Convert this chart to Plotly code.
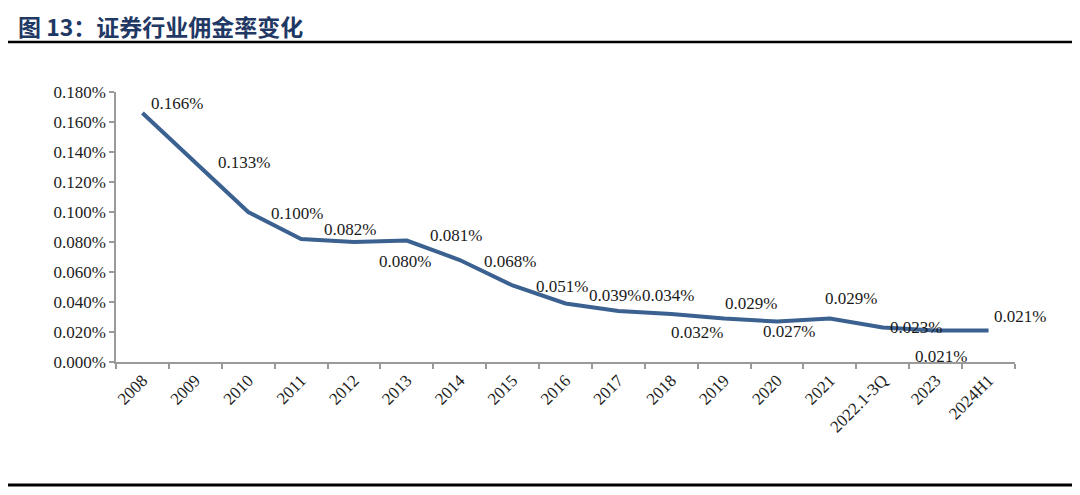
import plotly.graph_objects as go

categories = ["2008", "2009", "2010", "2011", "2012", "2013", "2014", "2015", "2016",
              "2017", "2018", "2019", "2020", "2021", "2022.1-3Q", "2023", "2024H1"]
rates = [0.166, 0.133, 0.100, 0.082, 0.080, 0.081, 0.068, 0.051, 0.039,
         0.034, 0.032, 0.029, 0.027, 0.029, 0.023, 0.021, 0.021]
y_ticks = [0.0, 0.02, 0.04, 0.06, 0.08, 0.10, 0.12, 0.14, 0.16, 0.18]

# label offsets (pixels) relative to each point: (right, down)
label_dx = [35, 49, 49, 49, 51, 49, 50, 49, 49, 50, 26, 27, 12, 21, 33, 5, 31]
label_dy = [-10, 0, 1, -10, 19, -5, 1, 1, -8, -16, 18, -15, 10, -20, 0, 26, -14]

OFF = 8  # page body margin
W, H = 1064, 479
# plot area in page pixels: x 116..1015, y 92..362
L = 116 - OFF
T = 92 - OFF
R = W - (1015 - OFF)
B = H - (362 - OFF)
pw, ph = W - L - R, H - T - B

def px_to_paper_x(px):  # page px
    return (px - OFF - L) / pw

def px_to_paper_y(py):  # page px
    return (H - B - (py - OFF)) / ph

serif = "Liberation Serif, Times New Roman, serif"

fig = go.Figure()
fig.add_trace(go.Scatter(
    x=list(range(len(categories))), y=rates, mode="lines",
    line=dict(color="#3B6191", width=4),
    hoverinfo="skip", showlegend=False,
))

annotations = []
for i, (v, dx, dy) in enumerate(zip(rates, label_dx, label_dy)):
    annotations.append(dict(
        x=i, y=v, xref="x", yref="y", text=f"{v:.3f}%", showarrow=False,
        xshift=dx, yshift=-dy, font=dict(family=serif, size=17, color="#1a1a1a"),
    ))

annotations.append(dict(
    xref="paper", yref="paper", x=px_to_paper_x(17), y=px_to_paper_y(8),
    xanchor="left", yanchor="top", showarrow=False, borderpad=0,
    text="<b>图 13：证券行业佣金率变化</b>",
    font=dict(family="Noto Sans CJK SC", size=23, color="#1F3864"),
))

shapes = [
    dict(type="line", xref="paper", yref="paper",
         x0=px_to_paper_x(0), x1=px_to_paper_x(1080), y0=px_to_paper_y(42), y1=px_to_paper_y(42),
         line=dict(color="#000000", width=2.5)),
    dict(type="line", xref="paper", yref="paper",
         x0=px_to_paper_x(0), x1=px_to_paper_x(1080), y0=px_to_paper_y(485), y1=px_to_paper_y(485),
         line=dict(color="#000000", width=3)),
]

fig.update_layout(
    width=W, height=H,
    margin=dict(l=L, r=R, t=T, b=B, pad=0),
    paper_bgcolor="white", plot_bgcolor="white",
    annotations=annotations, shapes=shapes,
    xaxis=dict(
        range=[-0.5, len(categories) - 0.5],
        tickmode="array", tickvals=list(range(len(categories))), ticktext=categories,
        showline=True, linecolor="#9a9a9a", linewidth=1.5,
        ticks="", tickangle=-45, tickfont=dict(family=serif, size=17, color="#222222"),
        showgrid=False, zeroline=False,
        minor=dict(tickmode="array", tickvals=[i - 0.5 for i in range(len(categories) + 1)],
                   ticks="outside", ticklen=5, tickcolor="#9a9a9a", tickwidth=1.5, showgrid=False),
    ),
    yaxis=dict(
        range=[0, 0.18], tickvals=y_ticks,
        ticktext=[f"{t:.3f}%" for t in y_ticks],
        showline=True, linecolor="#9a9a9a", linewidth=1.5,
        ticks="outside", ticklen=5, tickcolor="#9a9a9a", tickwidth=1.5,
        tickfont=dict(family=serif, size=17, color="#222222"),
        showgrid=False, zeroline=False,
    ),
)

fig.write_html("out.html")
